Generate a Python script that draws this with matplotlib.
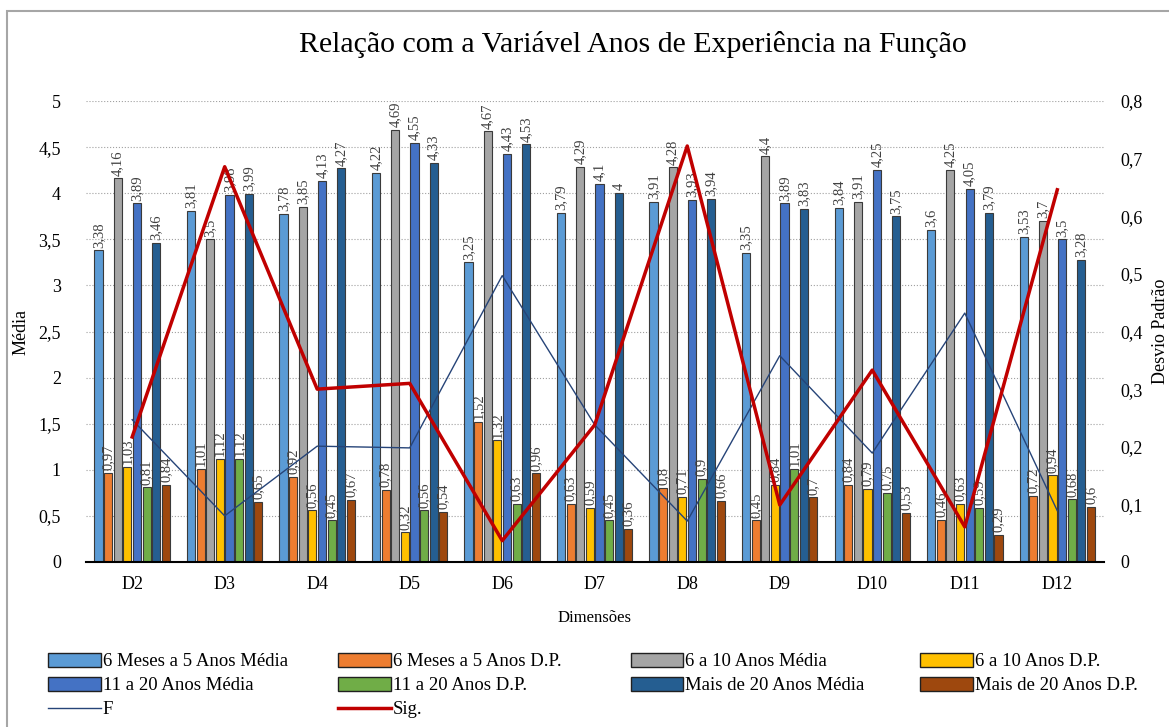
import matplotlib
matplotlib.use('Agg')
import matplotlib.pyplot as plt
import matplotlib.patches as patches
import numpy as np
from matplotlib.ticker import FuncFormatter, MultipleLocator

plt.rcParams['font.family'] = ['Liberation Serif', 'DejaVu Serif']

# dados
dimensoes = ['D2', 'D3', 'D4', 'D5', 'D6', 'D7', 'D8', 'D9', 'D10', 'D11', 'D12']

m6_5_media = [3.38, 3.81, 3.78, 4.22, 3.25, 3.79, 3.91, 3.35, 3.84, 3.6, 3.53]
m6_5_dp = [0.97, 1.01, 0.92, 0.78, 1.52, 0.63, 0.8, 0.45, 0.84, 0.46, 0.72]
a6_10_media = [4.16, 3.5, 3.85, 4.69, 4.67, 4.29, 4.28, 4.4, 3.91, 4.25, 3.7]
a6_10_dp = [1.03, 1.12, 0.56, 0.32, 1.32, 0.59, 0.71, 0.84, 0.79, 0.63, 0.94]
a11_20_media = [3.89, 3.98, 4.13, 4.55, 4.43, 4.1, 3.93, 3.89, 4.25, 4.05, 3.5]
a11_20_dp = [0.81, 1.12, 0.45, 0.56, 0.63, 0.45, 0.9, 1.01, 0.75, 0.59, 0.68]
mais20_media = [3.46, 3.99, 4.27, 4.33, 4.53, 4.0, 3.94, 3.83, 3.75, 3.79, 3.28]
mais20_dp = [0.84, 0.65, 0.67, 0.54, 0.96, 0.36, 0.66, 0.7, 0.53, 0.29, 0.6]

f_vals = [0.247, 0.080, 0.201, 0.198, 0.497, 0.238, 0.071, 0.358, 0.189, 0.432, 0.089]
sig_vals = [0.217, 0.686, 0.300, 0.310, 0.037, 0.238, 0.722, 0.099, 0.333, 0.061, 0.646]

series = [
    ('6 Meses a 5 Anos Média', m6_5_media, '#5B9BD5'),
    ('6 Meses a 5 Anos D.P.', m6_5_dp, '#ED7D31'),
    ('6 a 10 Anos Média', a6_10_media, '#A5A5A5'),
    ('6 a 10 Anos D.P.', a6_10_dp, '#FFC000'),
    ('11 a 20 Anos Média', a11_20_media, '#4472C4'),
    ('11 a 20 Anos D.P.', a11_20_dp, '#70AD47'),
    ('Mais de 20 Anos Média', mais20_media, '#255E91'),
    ('Mais de 20 Anos D.P.', mais20_dp, '#9E480E'),
]

def virgula(v, pos=None):
    s = ('%.2f' % v).rstrip('0').rstrip('.')
    return s.replace('.', ',')

fig = plt.figure(figsize=(11.69, 7.27), dpi=100)
ax = fig.add_axes([0.0735, 0.227, 0.8705, 0.634])

x = np.arange(len(dimensoes))
passo = 0.104
larg = 0.088
handles = []
for i, (nome, vals, cor) in enumerate(series):
    pos = x + (i - 3.5) * passo
    b = ax.bar(pos, vals, width=larg, color=cor, edgecolor='#3a3a3a', linewidth=0.8,
               label=nome, zorder=2)
    handles.append(b)
    for xp, v in zip(pos, vals):
        ax.text(xp, v + 0.03, virgula(v), rotation=90, ha='center', va='bottom',
                fontsize=10.5, color='#404040', zorder=4)

ax.set_xlim(-0.5, len(dimensoes) - 0.5)
ax.set_ylim(0, 5)
ax.yaxis.set_major_locator(MultipleLocator(0.5))
ax.yaxis.set_major_formatter(FuncFormatter(virgula))
ax.grid(axis='y', linestyle=':', color='#a0a0a0', linewidth=0.8, zorder=0)
ax.set_axisbelow(True)
ax.set_xticks(x)
ax.set_xticklabels(dimensoes)
ax.tick_params(axis='x', length=0, labelsize=13, pad=10)
ax.tick_params(axis='y', length=0, labelsize=13, pad=18)
for s in ['top', 'right', 'left']:
    ax.spines[s].set_visible(False)
ax.spines['bottom'].set_linewidth(1.5)
ax.set_ylabel('Média', fontsize=13, labelpad=6)
ax.set_xlabel('Dimensões', fontsize=12, labelpad=12)

ax2 = ax.twinx()
ax2.set_ylim(0, 0.8)
ax2.yaxis.set_major_locator(MultipleLocator(0.1))
ax2.yaxis.set_major_formatter(FuncFormatter(virgula))
ax2.tick_params(axis='y', length=0, labelsize=13, pad=12)
for s in ['top', 'right', 'left', 'bottom']:
    ax2.spines[s].set_visible(False)
lf, = ax2.plot(x, f_vals, color='#264478', linewidth=1.0, label='F', zorder=5)
ls, = ax2.plot(x, sig_vals, color='#C00000', linewidth=2.5, label='Sig.', zorder=6)
ax2.set_ylabel('Desvio Padrão', fontsize=13, labelpad=7)

fig.suptitle('Relação com a Variável Anos de Experiência na Função', fontsize=21.5,
             x=0.541, y=0.958)

# legenda em 4 colunas, preenchida por linhas
leg_handles = handles + [lf, ls]
col_x = [0.035, 0.283, 0.533, 0.781]
for c in range(4):
    hs = leg_handles[c::4]
    leg = fig.legend(hs, [h.get_label() for h in hs], loc='upper left',
                     bbox_to_anchor=(col_x[c], 0.112), ncol=1, frameon=False,
                     fontsize=13.5, handlelength=2.8, handleheight=0.75,
                     handletextpad=0.1, labelspacing=0.35, borderaxespad=0)
    for p in leg.get_patches():
        p.set_edgecolor('#202020')
        p.set_linewidth(1.0)

# moldura da área do gráfico (só esquerda e topo ficam visíveis)
fig.patches.append(patches.Rectangle((0.006, -0.01), 1.0, 0.995, transform=fig.transFigure,
                                     fill=False, edgecolor='#a6a6a6', linewidth=1.5))

fig.savefig('out.png', dpi=100)
